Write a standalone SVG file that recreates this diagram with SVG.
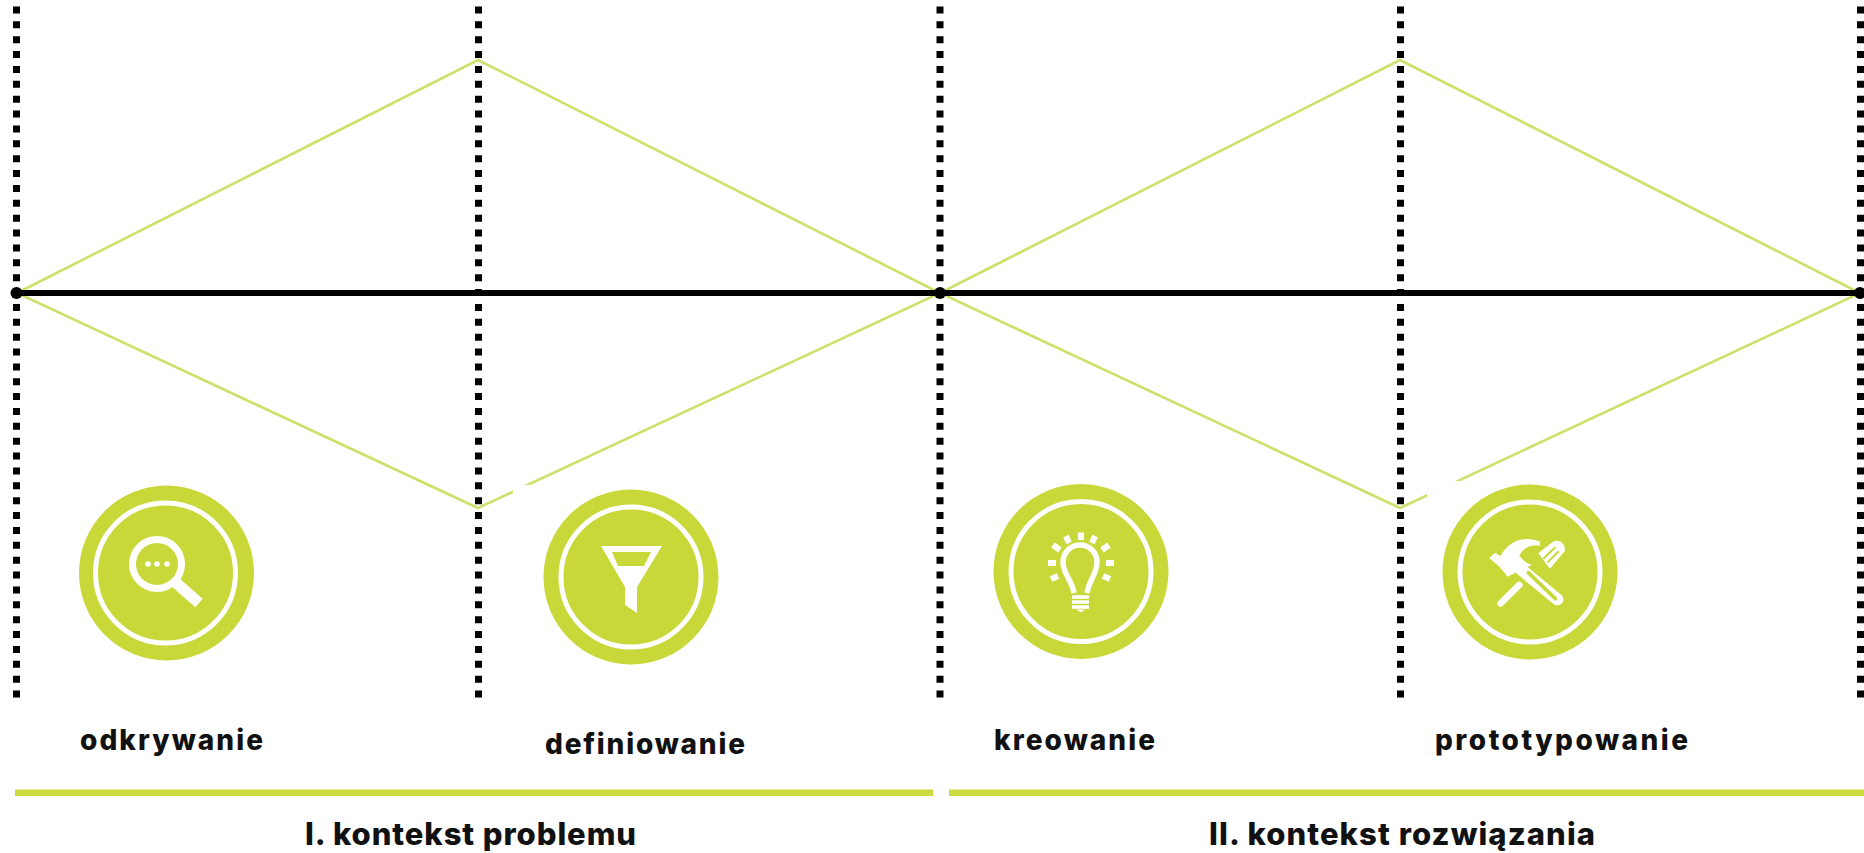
<svg xmlns="http://www.w3.org/2000/svg" width="1864" height="853" viewBox="0 0 1864 853">
<style>
.dot{stroke:#000;stroke-width:7;stroke-dasharray:7 7.87;fill:none}
.g{stroke:#cfdf6a;stroke-width:2.6;fill:none}
.disc{fill:#c8d838}
.ring{fill:none;stroke:#fff;stroke-width:5}
.w{fill:#fff}
.ws{stroke:#fff;fill:none}
text{font-family:"Inter","Liberation Sans",sans-serif;font-weight:800;fill:#111}
.s{font-size:28px}
.h{font-size:31px}
</style>
<rect width="1864" height="853" fill="#fff"/>
<g id="connectors">
<path class="dot" d="M16.500 6.500V698M478.500 6.500V698M940 6.500V698M1400.500 6.500V698M1860.500 6.500V698"/>
<path class="g" d="M17 293L478 60L940 293L478 508ZM940 293L1400 60L1860 293L1400 508Z"/>
<rect x="513" y="485" width="390" height="215" class="w"/>
<rect x="1427" y="481" width="390" height="219" class="w"/>
<path d="M16 293H1860" stroke="#000" stroke-width="6"/>
<circle cx="16.500" cy="293" r="6"/>
<circle cx="940" cy="293" r="6"/>
<circle cx="1860" cy="293" r="6"/>
<rect x="15" y="789.500" width="918" height="6.500" fill="#ccdb40"/>
<rect x="949" y="789.500" width="915" height="6.500" fill="#ccdb40"/>
</g>
<g id="node-odkrywanie">
<circle class="disc" cx="166.500" cy="573" r="87.500"/>
<circle class="ring" cx="165.500" cy="573" r="70"/>
<circle class="ws" cx="157" cy="564" r="24.500" stroke-width="7"/>
<path class="ws" d="M175 582L199 603" stroke-width="11"/>
<circle class="w" cx="148" cy="564" r="2.800"/><circle class="w" cx="157" cy="564" r="2.800"/><circle class="w" cx="167" cy="564" r="2.800"/>
<text class="s" x="80" y="750" textLength="183" lengthAdjust="spacing">odkrywanie</text>
</g>
<g id="node-definiowanie">
<circle class="disc" cx="631" cy="577" r="87.500"/>
<circle class="ring" cx="631" cy="577" r="70"/>
<path class="w" fill-rule="evenodd" d="M601 546H662L637 587V613L625 605V587ZM612 552L618 566H644L651 552Z"/>
<text class="s" x="545" y="754" textLength="200" lengthAdjust="spacing">definiowanie</text>
</g>
<g id="node-kreowanie">
<circle class="disc" cx="1081" cy="571.500" r="87.500"/>
<circle class="ring" cx="1081" cy="571.500" r="70"/>
<path class="ws" stroke-width="5.500" d="M1074 593C1072 580 1063 574 1063 562A17 17 0 0 1 1097 562C1097 574 1089 580 1087 593"/>
<path class="ws" stroke-width="3.500" d="M1072 597H1089M1072 602H1089M1072 607H1089"/>
<path class="w" d="M1076 609.500H1085L1081 612.500Z"/>
<path class="ws" stroke-width="6" d="M1081 532.500V540M1066 536L1069 543M1095 536L1092 543M1053 545L1060 550M1109 545L1102 550M1048 563H1056M1114 563H1106M1051 579L1058 576M1110 579L1103 576"/>
<text class="s" x="994" y="750" textLength="161" lengthAdjust="spacing">kreowanie</text>
</g>
<g id="node-prototypowanie">
<circle class="disc" cx="1530" cy="572" r="87.500"/>
<circle class="ring" cx="1530" cy="572" r="70"/>
<g transform="translate(1400 470) scale(.3333)">
<path class="ws" stroke-width="20" stroke-linecap="round" d="M302 400L358 345"/>
<path class="w" d="M415 250L455 218C475 203 497 220 495 242L450 296Z"/>
<path stroke="#c8d838" stroke-width="6" fill="none" d="M430 266L466 232M442 278L476 244"/>
<path class="w" d="M268 265L285 248L302 258C325 212 375 195 420 215L420 228C390 222 368 235 358 258L375 275L395 285L322 320L312 306L296 288Z"/>
<path class="ws" stroke-width="36" stroke-linecap="round" d="M365 300L472 388"/>
<path stroke="#c8d838" stroke-width="11" stroke-linecap="round" fill="none" d="M385 308L466 386"/>
</g>
<text class="s" x="1435" y="750" textLength="253" lengthAdjust="spacing">prototypowanie</text>
</g>
<g id="label-problem"><text class="h" x="305" y="845" textLength="331" lengthAdjust="spacing">I. kontekst problemu</text></g>
<g id="label-solution"><text class="h" x="1209" y="845" textLength="386" lengthAdjust="spacing">II. kontekst rozwiązania</text></g>
</svg>
